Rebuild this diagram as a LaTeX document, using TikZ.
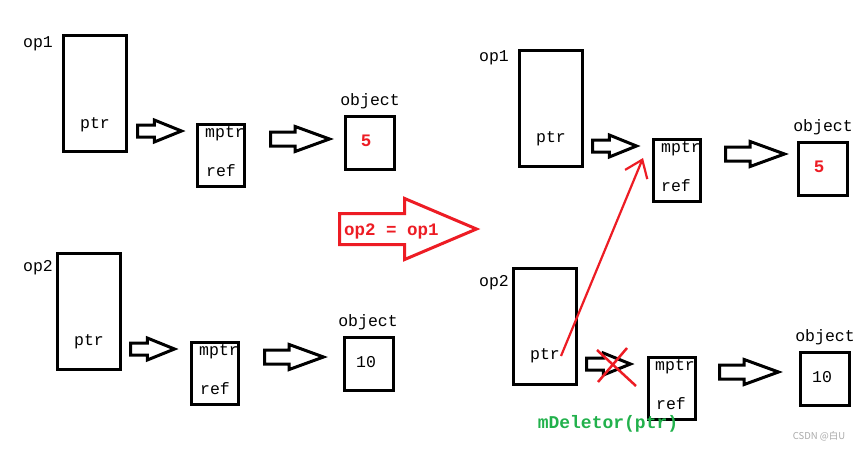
\documentclass[tikz,border=0pt]{standalone}
\usepackage{fontspec}
\setmainfont{Liberation Mono}
\newfontfamily\cjkfont{Noto Sans CJK SC}
\usetikzlibrary{shapes.arrows,arrows.meta}
\definecolor{pred}{RGB}{237,28,36}
\definecolor{pgreen}{RGB}{34,177,76}
\definecolor{wmgray}{RGB}{170,170,170}
\tikzset{
  box/.style={draw=black,line width=3pt,minimum width=47pt,minimum height=62pt,inner sep=0pt},
  opbox/.style={box,minimum width=63pt,minimum height=116pt},
  objbox/.style={box,minimum width=49pt,minimum height=53pt},
  txt/.style={inner sep=0pt,font=\fontsize{16.5}{18}\selectfont,text=black},
  redtxt/.style={inner sep=0pt,font=\fontsize{17.5}{19}\selectfont\bfseries,text=pred},
  harrow/.style={single arrow,draw=black,fill=white,line width=3pt,anchor=tail,
    inner xsep=0pt,inner ysep=4.5pt,minimum width=0pt,minimum height=44pt,
    single arrow tip angle=44,single arrow head extend=5pt},
  harrowlong/.style={harrow,inner ysep=5.5pt,minimum height=59pt,
    single arrow head extend=5.5pt,single arrow tip angle=40},
}
\begin{document}
\begin{tikzpicture}[x=1pt,y=-1pt]
\useasboundingbox (0,0) rectangle (861,450);
\fill[white] (0,0) rectangle (861,450);

% ---------- left top ----------
\node[opbox] (a1) at (95,93) {};
\node[txt] (a1l) at (38,44) {op1};
\node[txt] (a1p) at (95,125) {ptr};
\node[box] (a2) at (221,155.5) {};
\node[txt] (a2m) at (225,134) {mptr};
\node[txt] (a2r) at (221,171) {ref};
\node[objbox] (a3) at (370,142.5) {};
\node[txt] (a3l) at (370,101) {object};
\node[redtxt] (a3v) at (366,141) {5};
\node[harrow] (aa1) at (136,131) {};
\node[harrowlong] (aa2) at (269,139) {};

% ---------- left bottom ----------
\node[opbox] (b1) at (89,311) {};
\node[txt] (b1l) at (38,268) {op2};
\node[txt] (b1p) at (89,342) {ptr};
\node[box] (b2) at (215,373) {};
\node[txt] (b2m) at (219,352) {mptr};
\node[txt] (b2r) at (215,389) {ref};
\node[objbox] (b3) at (369,364) {};
\node[txt] (b3l) at (368,322) {object};
\node[txt] (b3v) at (366,362) {10};
\node[harrow] (ba1) at (129,349) {};
\node[harrowlong] (ba2) at (263,357) {};

% ---------- big red arrow ----------
\node[single arrow,draw=pred,line width=3pt,anchor=tail,inner xsep=0pt,inner ysep=14pt,
  minimum width=0pt,minimum height=137pt,single arrow tip angle=46,
  single arrow head extend=15pt] (big) at (338,229) {};
\node[redtxt,anchor=west] (bigt) at (344,231) {op2 = op1};

% ---------- right top ----------
\node[opbox] (c1) at (551,108) {};
\node[txt] (c1l) at (494,58) {op1};
\node[txt] (c1p) at (551,139) {ptr};
\node[box] (c2) at (677,170.5) {};
\node[txt] (c2m) at (681,149) {mptr};
\node[txt] (c2r) at (676,186) {ref};
\node[objbox] (c3) at (823,168.5) {};
\node[txt] (c3l) at (823,127) {object};
\node[redtxt] (c3v) at (819,167) {5};
\node[harrow] (ca1) at (591,146) {};
\node[harrowlong] (ca2) at (724,154) {};

% ---------- right bottom ----------
\node[opbox] (d1) at (545,326) {};
\node[txt] (d1l) at (494,283) {op2};
\node[txt] (d1p) at (545,356) {ptr};
\node[box] (d2) at (671.5,388.5) {};
\node[txt] (d2m) at (675,367) {mptr};
\node[txt] (d2r) at (671,404) {ref};
\node[objbox] (d3) at (824.5,378.5) {};
\node[txt] (d3l) at (825,337) {object};
\node[txt] (d3v) at (822,377) {10};
\node[harrow] (da1) at (585,364) {};
\node[harrowlong] (da2) at (718,372) {};

% red X over the broken link
\coordinate (x1) at (597,350);
\coordinate (x2) at (636,386);
\coordinate (x3) at (627,348);
\coordinate (x4) at (598,382);
\draw[pred,line width=2.5pt] (x1) -- (x2);
\draw[pred,line width=2.5pt] (x3) -- (x4);

% red pointer from ptr to shared mptr
\coordinate (rs) at (561,356);
\coordinate (rt) at (643,158);
\draw[pred,line width=2.2pt,-{Straight Barb[length=16pt,width=24pt,line width=2.2pt]}] (rs) -- (rt);

\node[inner sep=0pt,font=\fontsize{18}{20}\selectfont\bfseries,text=pgreen] (del) at (608,424) {mDeletor(ptr)};
\node[inner sep=0pt,font=\cjkfont\fontsize{9.5}{11}\selectfont,text=wmgray] (wm) at (819,436) {CSDN @白U};
\end{tikzpicture}
\end{document}
